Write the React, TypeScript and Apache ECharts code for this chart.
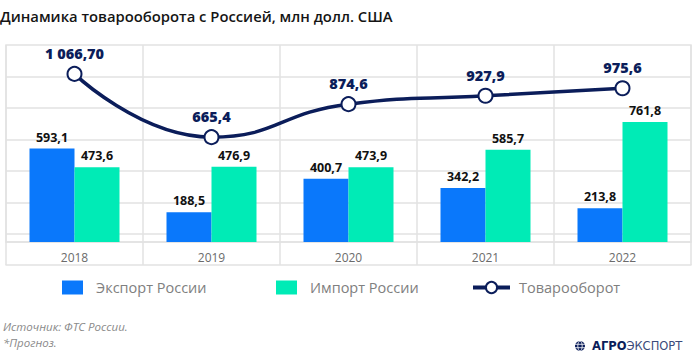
import React, { useEffect, useRef } from "react";
import * as echarts from "echarts";

const categories = ["2018", "2019", "2020", "2021", "2022"];
const exportValues = [593.1, 188.5, 400.7, 342.2, 213.8];
const importValues = [473.6, 476.9, 473.9, 585.7, 761.8];
const turnoverValues = [1066.7, 665.4, 874.6, 927.9, 975.6];
const turnoverLabels = ["1 066,70", "665,4", "874,6", "927,9", "975,6"];
const gridValues = [50, 250, 450, 650, 850, 1050];

const titleText = "Динамика товарооборота с Россией, млн долл. США";
const seriesNames = ["Экспорт России", "Импорт России", "Товарооборот"];
const sourceText = "Источник: ФТС России.";
const noteText = "*Прогноз.";

const FONT = "'Open Sans', 'DejaVu Sans', sans-serif";
const BLUE = "#0a78fb";
const MINT = "#00ebb6";
const NAVY = "#0b1d5a";
const GRID = "#e2e2e2";

const fmt = (v: number) => v.toFixed(1).replace(".", ",");

export default function App() {
  const ref = useRef<HTMLDivElement>(null);
  useEffect(() => {
    if (!ref.current) return;
    const chart = echarts.init(ref.current, null, { renderer: "svg" });
    const legendText = {
      fontFamily: FONT,
      fontSize: 14.5,
      color: "#808080",
      padding: [0, 0, 0, 8],
    };
    chart.setOption({
      animation: false,
      title: {
        text: titleText,
        left: 0,
        top: 8,
        padding: 0,
        textStyle: { fontFamily: FONT, fontSize: 14.8, fontWeight: 600, color: "#151515" },
      },
      grid: {
        left: 6,
        right: 4,
        top: 45,
        bottom: 118,
        show: true,
        borderColor: GRID,
        borderWidth: 1.5,
      },
      legend: [
        {
          data: [seriesNames[0]],
          left: 62,
          top: 280,
          padding: 0,
          itemWidth: 21,
          itemHeight: 14,
          icon: "rect",
          textStyle: legendText,
        },
        {
          data: [seriesNames[1]],
          left: 276,
          top: 280,
          padding: 0,
          itemWidth: 21,
          itemHeight: 14,
          icon: "rect",
          textStyle: legendText,
        },
        {
          data: [seriesNames[2]],
          left: 471,
          top: 280,
          padding: 0,
          itemWidth: 37,
          itemHeight: 14,
          textStyle: { ...legendText, padding: [0, 0, 0, 4] },
          lineStyle: { width: 4 },
        },
      ],
      xAxis: [
        {
          type: "category",
          data: categories,
          boundaryGap: true,
          axisLine: { show: true, lineStyle: { color: GRID, width: 1.5 } },
          axisTick: { show: true, length: 23, lineStyle: { color: GRID, width: 1.5 } },
          splitLine: { show: true, lineStyle: { color: GRID, width: 1.5 } },
          axisLabel: { fontFamily: FONT, fontSize: 12, color: "#6b6b6b", margin: 9 },
        },
        {
          type: "category",
          data: categories,
          position: "bottom",
          offset: 23,
          axisLine: { show: true, lineStyle: { color: GRID, width: 1.5 } },
          axisTick: { show: false },
          axisLabel: { show: false },
        },
      ],
      yAxis: {
        type: "value",
        min: 0,
        max: 1250,
        show: false,
        splitLine: { show: false },
      },
      series: [
        {
          name: seriesNames[0],
          type: "bar",
          data: exportValues,
          barWidth: 45,
          barGap: "0%",
          itemStyle: { color: BLUE },
          z: 3,
          label: {
            show: true,
            position: "top",
            distance: 5,
            formatter: (p: any) => fmt(p.value),
            fontFamily: FONT,
            fontSize: 12.5,
            fontWeight: 700,
            color: "#111",
          },
          markLine: {
            silent: true,
            symbol: "none",
            z: 1,
            label: { show: false },
            lineStyle: { color: GRID, width: 1.5, type: "solid" },
            data: gridValues.map((v) => ({ yAxis: v })),
          },
        },
        {
          name: seriesNames[1],
          type: "bar",
          data: importValues,
          barWidth: 45,
          barGap: "0%",
          itemStyle: { color: MINT },
          z: 3,
          label: {
            show: true,
            position: "top",
            distance: 5,
            formatter: (p: any) => fmt(p.value),
            fontFamily: FONT,
            fontSize: 12.5,
            fontWeight: 700,
            color: "#111",
          },
        },
        {
          name: seriesNames[2],
          type: "line",
          data: turnoverValues,
          smooth: 0.5,
          symbol: "emptyCircle",
          symbolSize: 14,
          z: 4,
          lineStyle: { color: NAVY, width: 3.5 },
          itemStyle: { color: NAVY, borderColor: NAVY, borderWidth: 2.5 },
          label: {
            show: true,
            position: "top",
            distance: 5,
            formatter: (p: any) => turnoverLabels[p.dataIndex],
            fontFamily: FONT,
            fontSize: 14.5,
            fontWeight: 800,
            color: NAVY,
          },
        },
      ],
      graphic: [
        {
          type: "text",
          x: 3,
          y: 326,
          style: {
            text: sourceText,
            fontFamily: FONT,
            fontSize: 11.5,
            fontStyle: "italic",
            fill: "#8a8a8a",
            verticalAlign: "middle",
          },
        },
        {
          type: "text",
          x: 3,
          y: 342,
          style: {
            text: noteText,
            fontFamily: FONT,
            fontSize: 11.5,
            fontStyle: "italic",
            fill: "#8a8a8a",
            verticalAlign: "middle",
          },
        },
        {
          type: "group",
          x: 575,
          y: 341,
          children: [
            { type: "circle", shape: { cx: 5, cy: 5, r: 5 }, style: { fill: NAVY } },
            { type: "line", shape: { x1: 0, y1: 3.3, x2: 10, y2: 3.3 }, style: { stroke: "#fff", lineWidth: 0.8 } },
            { type: "line", shape: { x1: 0, y1: 6.7, x2: 10, y2: 6.7 }, style: { stroke: "#fff", lineWidth: 0.8 } },
            { type: "ellipse", shape: { cx: 5, cy: 5, rx: 2.2, ry: 5 }, style: { fill: "none", stroke: "#fff", lineWidth: 0.8 } },
            {
              type: "text",
              x: 17,
              y: 5,
              style: {
                text: "{a|АГРО}{b|ЭКСПОРТ}",
                verticalAlign: "middle",
                rich: {
                  a: { fontFamily: "'DejaVu Sans', sans-serif", fontSize: 11.5, fontWeight: 800, fill: NAVY },
                  b: { fontFamily: "'DejaVu Sans', sans-serif", fontSize: 11.5, fontWeight: 400, fill: "#3a4a7a" },
                },
              },
            },
          ],
        },
      ],
    });
    return () => chart.dispose();
  }, []);
  return (
    <div
      ref={ref}
      style={{ position: "fixed", left: 0, top: 0, width: 695, height: 360, background: "#fff" }}
    />
  );
}
